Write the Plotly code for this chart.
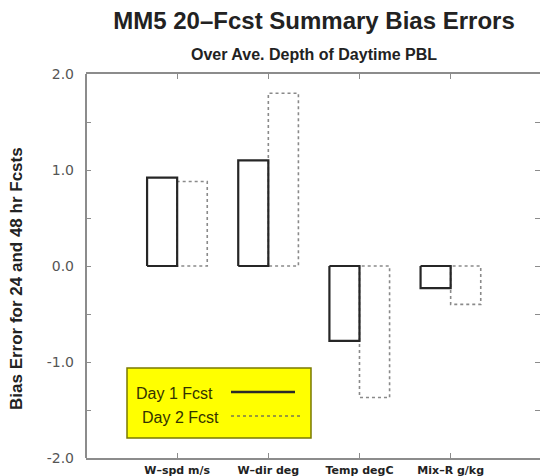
import plotly.graph_objects as go

# ---- data ----
categories = ["W–spd m/s", "W–dir deg", "Temp degC", "Mix–R g/kg"]
day1_bias = [0.92, 1.10, -0.78, -0.23]
day2_bias = [0.88, 1.80, -1.37, -0.40]
y_tick_vals = [-2.0, -1.0, 0.0, 1.0, 2.0]
y_tick_text = ["-2.0", "-1.0", "0.0", "1.0", "2.0"]
series_names = ["Day 1 Fcst", "Day 2 Fcst"]

# ---- geometry helpers ----
W, H = 540, 476
ML, MR, MT, MB = 86, 0, 74, 18
PW, PH = W - ML - MR, H - MT - MB
BAR_W = 0.33
positions = list(range(1, len(categories) + 1))


def px_x(p):
    return (p - ML) / PW


def px_y(p):
    return (H - MB - p) / PH


def outline(xs, vals, left_offset, width):
    ox, oy = [], []
    for c, v in zip(xs, vals):
        x0 = c + left_offset
        x1 = x0 + width
        ox += [x0, x0, x1, x1, x0, None]
        oy += [0, v, v, 0, 0, None]
    return ox, oy


fig = go.Figure()

# Day 2 (dotted outline, right of tick)
x2, y2 = outline(positions, day2_bias, 0.0, BAR_W)
fig.add_trace(go.Scatter(x=x2, y=y2, mode="lines", name=series_names[1],
                         line=dict(color="#8a8a8a", width=1.6, dash="dot"),
                         showlegend=False, hoverinfo="skip"))
# Day 1 (solid outline, left of tick)
x1, y1 = outline(positions, day1_bias, -BAR_W, BAR_W)
fig.add_trace(go.Scatter(x=x1, y=y1, mode="lines", name=series_names[0],
                         line=dict(color="#262626", width=2.2),
                         showlegend=False, hoverinfo="skip"))

FONT = "Liberation Sans, Arial, sans-serif"
AX = "#8c8c8c"

fig.update_layout(
    width=W, height=H,
    margin=dict(l=ML, r=MR, t=MT, b=MB, pad=0),
    paper_bgcolor="white", plot_bgcolor="white",
    showlegend=False,
    title=dict(text="<b>MM5 20–Fcst Summary Bias Errors</b>",
               font=dict(family=FONT, size=24, color="#222222"),
               x=314 / W, xanchor="center", xref="container",
               y=1 - 21 / H, yanchor="middle", yref="container"),
    xaxis=dict(range=[0, 4.98], tickvals=positions, ticktext=categories,
               showline=True, linecolor=AX, linewidth=2, mirror="ticks",
               ticks="inside", ticklen=5, tickcolor=AX, tickwidth=1,
               showgrid=False, zeroline=False,
               tickfont=dict(family="DejaVu Sans, sans-serif", size=11,
                             color="#222222", weight="bold"),
               ticklabelstandoff=1),
    yaxis=dict(range=[-2, 2], tickvals=y_tick_vals, ticktext=y_tick_text,
               showline=False, mirror="ticks",
               ticks="inside", ticklen=5, tickcolor=AX, tickwidth=1,
               minor=dict(dtick=0.5, ticks="inside", ticklen=5, tickcolor=AX,
                          showgrid=False),
               showgrid=False, zeroline=False,
               tickfont=dict(family="DejaVu Sans, sans-serif", size=14, color="#555555"),
               ticklabelstandoff=11),
)

shapes = [
    # left axis line (right one lies just past the window edge)
    dict(type="line", xref="paper", yref="paper", x0=0, x1=0, y0=0, y1=1,
         line=dict(color=AX, width=2), layer="above"),
    # legend box
    dict(type="rect", xref="paper", yref="paper",
         x0=px_x(127), x1=px_x(311), y0=px_y(438), y1=px_y(368),
         fillcolor="#ffff00", line=dict(color="#7a7a00", width=1.5), layer="above"),
    dict(type="line", xref="paper", yref="paper",
         x0=px_x(231), x1=px_x(295), y0=px_y(392), y1=px_y(392),
         line=dict(color="#2a2a2a", width=2.5), layer="above"),
    dict(type="line", xref="paper", yref="paper",
         x0=px_x(231), x1=px_x(300), y0=px_y(416), y1=px_y(416),
         line=dict(color="#7a7a50", width=1.5, dash="dot"), layer="above"),
]
fig.update_layout(shapes=shapes)

annotations = [
    dict(text="<b>Over Ave. Depth of Daytime PBL</b>", xref="paper", yref="paper",
         x=px_x(314), y=px_y(55), xanchor="center", yanchor="middle", showarrow=False,
         font=dict(family=FONT, size=16, color="#222222")),
    dict(text="<b>Bias Error for 24 and 48 hr Fcsts</b>", xref="paper", yref="paper",
         x=px_x(16), y=px_y(279), xanchor="center", yanchor="middle", showarrow=False,
         textangle=-90, font=dict(family=FONT, size=17, color="#222222")),
    dict(text=series_names[0], xref="paper", yref="paper",
         x=px_x(134), y=px_y(393), xanchor="left", yanchor="middle", showarrow=False,
         font=dict(family=FONT, size=16, color="#333300")),
    dict(text=series_names[1], xref="paper", yref="paper",
         x=px_x(140), y=px_y(417), xanchor="left", yanchor="middle", showarrow=False,
         font=dict(family=FONT, size=16, color="#333300")),
]
fig.update_layout(annotations=annotations)

fig.write_html("out.html")
